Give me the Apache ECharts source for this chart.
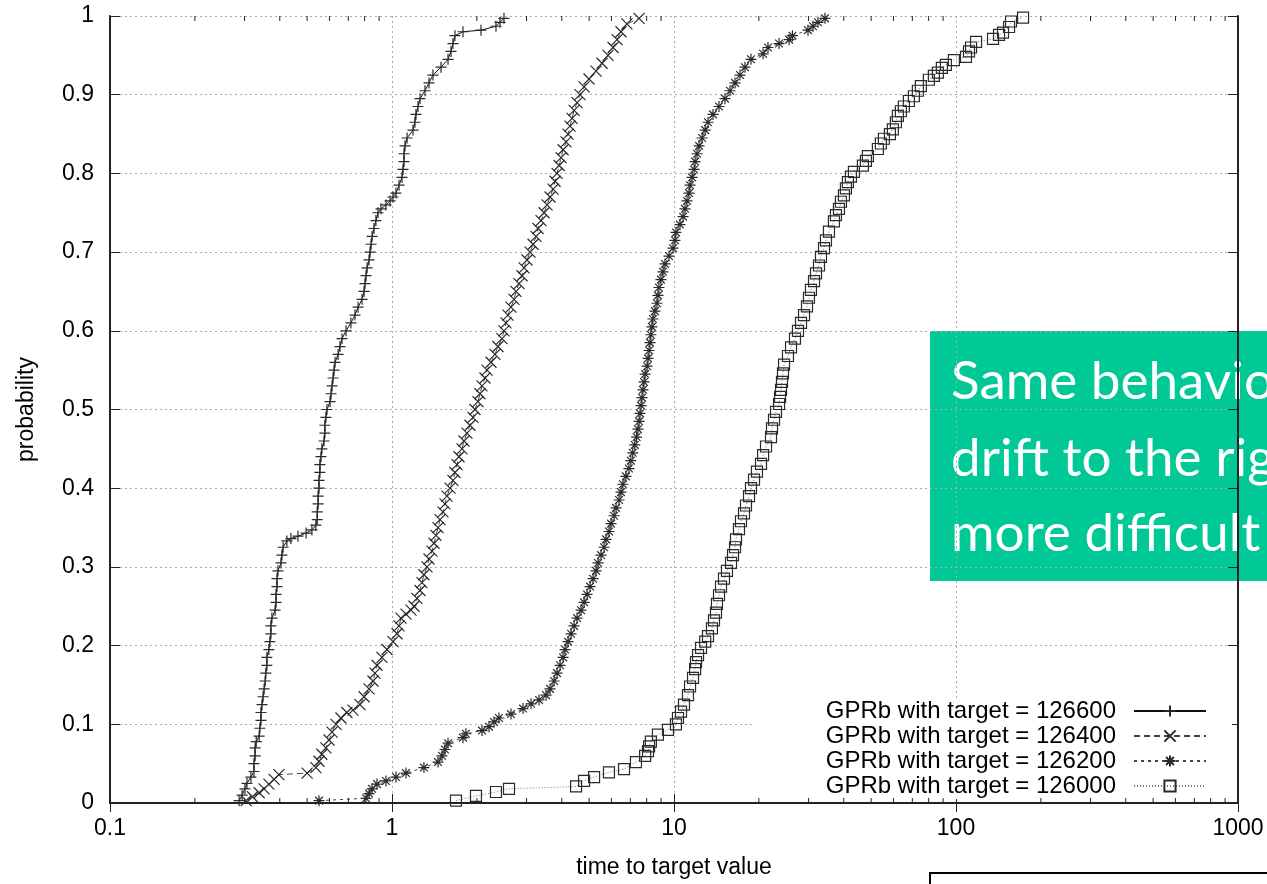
<!DOCTYPE html>
<html>
<head>
<meta charset="utf-8">
<script src="https://cdn.jsdelivr.net/npm/echarts@6/dist/echarts.min.js"></script>
<style>
  html, body { margin: 0; padding: 0; background: #fff; }
  #chart { width: 1267px; height: 884px; }
</style>
</head>
<body>
<div id="chart"></div>
<script>
// Time-to-target plots: each point is [time to target value, cumulative probability]
const seriesNames = [
  'GPRb with target = 126600',
  'GPRb with target = 126400',
  'GPRb with target = 126200',
  'GPRb with target = 126000'
];

const ttt126600 = [
  [0.287,0.003],[0.294,0.010],[0.301,0.018],[0.306,0.025],[0.316,0.033],[0.324,0.040],[0.324,0.050],[0.327,0.060],
  [0.327,0.070],[0.330,0.078],[0.338,0.085],[0.340,0.095],[0.343,0.105],[0.343,0.115],[0.346,0.125],[0.349,0.135],
  [0.352,0.145],[0.355,0.155],[0.357,0.165],[0.360,0.175],[0.360,0.185],[0.366,0.195],[0.369,0.205],[0.372,0.215],
  [0.372,0.225],[0.375,0.235],[0.385,0.245],[0.388,0.255],[0.388,0.265],[0.391,0.275],[0.391,0.285],[0.394,0.295],
  [0.404,0.305],[0.407,0.315],[0.411,0.325],[0.424,0.333],[0.438,0.336],[0.464,0.339],[0.496,0.343],[0.520,0.347],
  [0.537,0.353],[0.543,0.360],[0.543,0.370],[0.547,0.380],[0.547,0.390],[0.551,0.400],[0.551,0.410],[0.555,0.420],
  [0.555,0.430],[0.560,0.440],[0.564,0.450],[0.574,0.460],[0.578,0.470],[0.578,0.480],[0.583,0.490],[0.588,0.500],
  [0.603,0.510],[0.608,0.520],[0.613,0.530],[0.618,0.540],[0.623,0.550],[0.628,0.560],[0.644,0.570],[0.654,0.580],
  [0.665,0.590],[0.687,0.600],[0.715,0.610],[0.739,0.620],[0.758,0.630],[0.783,0.640],[0.796,0.650],[0.802,0.660],
  [0.809,0.670],[0.816,0.680],[0.829,0.690],[0.836,0.700],[0.843,0.710],[0.850,0.720],[0.863,0.730],[0.877,0.740],
  [0.892,0.750],[0.914,0.755],[0.952,0.760],[0.984,0.765],[1.008,0.770],[1.033,0.775],[1.059,0.785],[1.085,0.795],
  [1.094,0.805],[1.103,0.815],[1.103,0.825],[1.112,0.835],[1.131,0.845],[1.187,0.855],[1.206,0.865],[1.216,0.875],
  [1.236,0.885],[1.257,0.895],[1.309,0.905],[1.353,0.915],[1.397,0.925],[1.492,0.935],[1.580,0.945],[1.619,0.955],
  [1.645,0.965],[1.672,0.975],[1.785,0.980],[2.068,0.982],[2.337,0.987],[2.415,0.992],[2.495,0.997]
];

const ttt126400 = [
  [0.304,0.003],[0.320,0.008],[0.338,0.013],[0.352,0.018],[0.366,0.024],[0.382,0.030],[0.397,0.036],[0.500,0.038],
  [0.537,0.045],[0.551,0.053],[0.564,0.062],[0.583,0.070],[0.598,0.080],[0.613,0.090],[0.633,0.100],[0.659,0.108],
  [0.692,0.115],[0.727,0.118],[0.770,0.125],[0.796,0.135],[0.829,0.145],[0.856,0.155],[0.870,0.165],[0.885,0.175],
  [0.921,0.185],[0.960,0.195],[1.008,0.205],[1.042,0.215],[1.059,0.225],[1.076,0.235],[1.121,0.240],[1.168,0.245],
  [1.197,0.250],[1.226,0.260],[1.257,0.270],[1.277,0.280],[1.298,0.290],[1.331,0.300],[1.353,0.310],[1.386,0.320],
  [1.409,0.330],[1.432,0.340],[1.456,0.350],[1.480,0.360],[1.516,0.370],[1.541,0.380],[1.567,0.390],[1.606,0.400],
  [1.645,0.410],[1.672,0.420],[1.700,0.430],[1.728,0.440],[1.771,0.450],[1.800,0.460],[1.844,0.470],[1.890,0.480],
  [1.937,0.490],[1.969,0.500],[2.018,0.510],[2.051,0.520],[2.085,0.530],[2.137,0.540],[2.172,0.550],[2.244,0.560],
  [2.318,0.570],[2.375,0.580],[2.454,0.590],[2.495,0.600],[2.536,0.610],[2.578,0.620],[2.642,0.630],[2.708,0.640],
  [2.752,0.650],[2.821,0.660],[2.891,0.670],[2.939,0.680],[3.012,0.690],[3.087,0.700],[3.164,0.710],[3.242,0.720],
  [3.295,0.730],[3.377,0.740],[3.462,0.750],[3.547,0.760],[3.635,0.770],[3.726,0.780],[3.787,0.790],[3.849,0.800],
  [3.913,0.810],[3.977,0.820],[4.043,0.830],[4.142,0.840],[4.210,0.850],[4.279,0.860],[4.350,0.870],[4.423,0.880],
  [4.531,0.890],[4.641,0.900],[4.799,0.910],[4.997,0.920],[5.292,0.930],[5.557,0.940],[5.835,0.950],[6.080,0.960],
  [6.283,0.970],[6.486,0.980],[6.807,0.990],[7.520,0.997]
];

const ttt126200 = [
  [0.551,0.003],[0.809,0.006],[0.829,0.012],[0.850,0.018],[0.885,0.024],[0.952,0.028],[1.033,0.033],[1.121,0.038],
  [1.298,0.045],[1.456,0.052],[1.504,0.060],[1.541,0.068],[1.580,0.076],[1.785,0.083],[1.829,0.088],[2.085,0.092],
  [2.208,0.097],[2.300,0.103],[2.395,0.108],[2.642,0.113],[2.915,0.120],[3.112,0.126],[3.322,0.131],[3.518,0.137],
  [3.635,0.145],[3.757,0.155],[3.849,0.165],[3.945,0.175],[4.043,0.185],[4.109,0.195],[4.210,0.205],[4.315,0.215],
  [4.423,0.225],[4.531,0.235],[4.682,0.245],[4.799,0.255],[4.917,0.265],[5.039,0.275],[5.164,0.285],[5.292,0.295],
  [5.378,0.305],[5.512,0.315],[5.650,0.325],[5.742,0.335],[5.884,0.345],[5.981,0.355],[6.130,0.365],[6.230,0.375],
  [6.385,0.385],[6.486,0.395],[6.589,0.405],[6.753,0.415],[6.920,0.425],[7.030,0.435],[7.140,0.445],[7.260,0.455],
  [7.370,0.465],[7.450,0.475],[7.520,0.485],[7.580,0.495],[7.640,0.505],[7.700,0.515],[7.760,0.525],[7.830,0.535],
  [7.900,0.545],[8.030,0.555],[8.090,0.565],[8.160,0.575],[8.220,0.585],[8.280,0.595],[8.350,0.605],[8.420,0.615],
  [8.560,0.625],[8.700,0.635],[8.770,0.645],[8.840,0.655],[8.990,0.665],[9.140,0.675],[9.290,0.685],[9.600,0.695],
  [9.920,0.705],[10.08,0.715],[10.16,0.725],[10.50,0.735],[10.77,0.745],[10.94,0.755],[11.12,0.765],[11.30,0.775],
  [11.40,0.785],[11.59,0.795],[11.78,0.805],[11.88,0.815],[12.07,0.825],[12.27,0.835],[12.58,0.845],[12.90,0.855],
  [13.20,0.865],[13.75,0.875],[14.44,0.885],[15.16,0.895],[15.80,0.905],[16.46,0.915],[17.14,0.925],[17.85,0.935],
  [18.75,0.945],[20.70,0.952],[21.54,0.960],[23.58,0.965],[25.60,0.970],[26.30,0.975],[29.86,0.982],[31.10,0.987],
  [32.40,0.992],[34.30,0.997]
];

const ttt126000 = [
  [1.686,0.003],[1.985,0.009],[2.337,0.014],[2.600,0.018],[4.495,0.021],[4.799,0.028],[5.207,0.033],[5.880,0.039],
  [6.650,0.043],[7.330,0.052],[7.900,0.060],[8.090,0.066],[8.160,0.072],[8.280,0.078],[8.770,0.087],[9.520,0.093],
  [10.16,0.100],[10.33,0.108],[10.59,0.116],[10.85,0.125],[11.21,0.137],[11.40,0.148],[11.68,0.159],[11.88,0.170],
  [11.97,0.179],[12.17,0.188],[12.47,0.197],[12.90,0.205],[13.20,0.212],[13.63,0.222],[13.86,0.232],[14.09,0.242],
  [14.20,0.253],[14.44,0.264],[14.68,0.275],[15.04,0.285],[15.41,0.295],[15.93,0.305],[16.19,0.315],[16.46,0.325],
  [16.59,0.335],[17.00,0.348],[17.28,0.358],[17.71,0.368],[18.00,0.378],[18.45,0.390],[18.75,0.400],[19.22,0.411],
  [19.69,0.421],[20.35,0.431],[20.70,0.442],[21.20,0.453],[22.08,0.465],[22.26,0.476],[22.63,0.487],[23.00,0.497],
  [23.58,0.507],[23.77,0.516],[23.96,0.525],[24.15,0.535],[24.35,0.546],[24.56,0.557],[25.36,0.568],[26.00,0.579],
  [26.85,0.590],[27.52,0.600],[28.21,0.610],[28.91,0.620],[29.62,0.631],[30.10,0.642],[30.60,0.652],[31.37,0.663],
  [31.88,0.673],[32.67,0.683],[33.20,0.694],[34.03,0.705],[34.58,0.715],[35.44,0.726],[36.91,0.739],[37.52,0.747],
  [38.45,0.755],[39.08,0.764],[40.05,0.772],[40.70,0.781],[41.37,0.789],[42.40,0.796],[43.45,0.802],[46.76,0.810],
  [47.92,0.816],[48.70,0.822],[52.84,0.831],[54.15,0.838],[55.50,0.844],[58.30,0.850],[59.72,0.856],[61.21,0.865],
  [62.21,0.873],[63.76,0.879],[65.34,0.885],[68.06,0.892],[70.90,0.898],[73.24,0.905],[75.06,0.911],[80.13,0.919],
  [83.47,0.924],[86.23,0.928],[89.10,0.934],[92.06,0.938],[98.28,0.944],[108.5,0.948],[111.2,0.955],[113.1,0.960],
  [117.8,0.967],[135.3,0.971],[142.1,0.976],[146.8,0.979],[154.2,0.986],[156.7,0.993],[172.9,0.998]
];

// Axis ranges and the unlabelled log ticks between decades
const X_MIN = 0.1, X_MAX = 1000;
const Y_MIN = 0, Y_MAX = 1, Y_STEP = 0.1;
const minorTickValues = [
  0.2, 0.3, 0.4, 0.5, 0.6, 0.7, 0.8, 0.9,
  2, 3, 4, 5, 6, 7, 8, 9,
  20, 30, 40, 50, 60, 70, 80, 90,
  200, 300, 400, 500, 600, 700, 800, 900
];

const noteLines = ['Same behavior', 'drift to the right', 'more difficult'];

const FONT = 'Liberation Sans, Arial, Helvetica, sans-serif';
const NOTE_FONT = '53px Lato, "Open Sans", sans-serif';
const AXIS_COLOR = '#222';
const MARK_COLOR = '#2a2a2a';

// Marker glyphs: plus, cross, star, open square
const plusSymbol = 'path://M0,5L10,5M5,0L5,10';
const crossSymbol = 'path://M0,0L10,10M10,0L0,10';
const starSymbol = 'path://M0,5L10,5M5,0L5,10M1.5,1.5L8.5,8.5M8.5,1.5L1.5,8.5';
const squareSymbol = 'path://M0,0L10,0L10,10L0,10Z';

function tttSeries(name, data, symbol, lineType, lineColor) {
  return {
    name: name,
    type: 'line',
    data: data,
    symbol: symbol,
    symbolSize: 11,
    showSymbol: true,
    showAllSymbol: true,
    smooth: false,
    clip: false,
    lineStyle: { color: lineColor, width: 1, type: lineType },
    itemStyle: { color: 'none', borderColor: MARK_COLOR, borderWidth: 1.2 },
    emphasis: { disabled: true },
    z: 3
  };
}

function renderMinorTick(params, api) {
  const v = api.value(0);
  const bottom = api.coord([v, Y_MIN]);
  const top = api.coord([v, Y_MAX]);
  const style = { stroke: AXIS_COLOR, lineWidth: 1 };
  return {
    type: 'group',
    children: [
      { type: 'line', shape: { x1: bottom[0], y1: bottom[1], x2: bottom[0], y2: bottom[1] - 5 }, style: style },
      { type: 'line', shape: { x1: top[0], y1: top[1], x2: top[0], y2: top[1] + 5 }, style: style }
    ]
  };
}

function plainNumber(v) {
  return String(parseFloat(Number(v).toPrecision(6)));
}

const baseAxisLine = { show: true, lineStyle: { color: AXIS_COLOR, width: 2 } };
const gridLine = { show: true, lineStyle: { color: '#aaa', width: 1, type: [2, 3] } };

const chart = echarts.init(document.getElementById('chart'), null, { renderer: 'canvas' });

chart.setOption({
  animation: false,
  backgroundColor: '#fff',
  textStyle: { fontFamily: FONT },
  grid: { left: 110, right: 29, top: 16, bottom: 75 },
  xAxis: [
    {
      type: 'log', logBase: 10, min: X_MIN, max: X_MAX,
      position: 'bottom',
      name: 'time to target value',
      nameLocation: 'middle',
      nameGap: 53,
      nameTextStyle: { fontFamily: FONT, fontSize: 23, color: '#000' },
      axisLine: baseAxisLine,
      axisTick: { show: true, inside: true, length: 9, lineStyle: { color: AXIS_COLOR, width: 1 } },
      axisLabel: { fontFamily: FONT, fontSize: 23, color: '#000', margin: 14, formatter: plainNumber },
      splitLine: gridLine,
      minorTick: { show: false }
    },
    {
      type: 'log', logBase: 10, min: X_MIN, max: X_MAX,
      position: 'top',
      axisLine: baseAxisLine,
      axisTick: { show: true, inside: true, length: 9, lineStyle: { color: AXIS_COLOR, width: 1 } },
      axisLabel: { show: false },
      splitLine: { show: false }
    }
  ],
  yAxis: [
    {
      type: 'value', min: Y_MIN, max: Y_MAX, interval: Y_STEP,
      position: 'left',
      name: 'probability',
      nameLocation: 'middle',
      nameGap: 72,
      nameRotate: 90,
      nameTextStyle: { fontFamily: FONT, fontSize: 23, color: '#000' },
      axisLine: baseAxisLine,
      axisTick: { show: true, inside: true, length: 10, lineStyle: { color: AXIS_COLOR, width: 1 } },
      axisLabel: { fontFamily: FONT, fontSize: 23, color: '#000', margin: 16 },
      splitLine: gridLine
    },
    {
      type: 'value', min: Y_MIN, max: Y_MAX, interval: Y_STEP,
      position: 'right',
      axisLine: baseAxisLine,
      axisTick: { show: true, inside: true, length: 10, lineStyle: { color: AXIS_COLOR, width: 1 } },
      axisLabel: { show: false },
      splitLine: { show: false }
    }
  ],
  legend: {
    data: seriesNames,
    orient: 'vertical',
    align: 'right',
    right: 35,
    top: 698,
    padding: [1, 25, 1, 72],
    itemWidth: 72,
    itemHeight: 14,
    itemGap: 1,
    selectedMode: false,
    backgroundColor: '#fff',
    textStyle: { fontFamily: FONT, fontSize: 24, color: '#000', padding: [0, 13, 0, 0] },
    z: 2
  },
  series: [
    tttSeries(seriesNames[0], ttt126600, plusSymbol, 'solid', '#111'),
    tttSeries(seriesNames[1], ttt126400, crossSymbol, [6, 4], '#444'),
    tttSeries(seriesNames[2], ttt126200, starSymbol, [3, 4], '#444'),
    tttSeries(seriesNames[3], ttt126000, squareSymbol, [1, 2], '#777'),
    {
      type: 'custom',
      xAxisIndex: 0,
      yAxisIndex: 0,
      data: minorTickValues.map(function (v) { return [v, Y_MIN]; }),
      renderItem: renderMinorTick,
      silent: true,
      clip: false,
      z: 5
    }
  ],
  graphic: [
    {
      type: 'group',
      z: 100,
      children: [
        {
          type: 'rect',
          shape: { x: 930, y: 331, width: 360, height: 250 },
          style: { fill: '#00c896' }
        },
        {
          type: 'text', x: 951, y: 382,
          style: { text: noteLines[0], fill: '#fff', font: NOTE_FONT, verticalAlign: 'middle' }
        },
        {
          type: 'text', x: 951, y: 459,
          style: { text: noteLines[1], fill: '#fff', font: NOTE_FONT, verticalAlign: 'middle' }
        },
        {
          type: 'text', x: 951, y: 534,
          style: { text: noteLines[2], fill: '#fff', font: NOTE_FONT, verticalAlign: 'middle' }
        },
        {
          type: 'rect',
          shape: { x: 930, y: 873, width: 360, height: 40 },
          style: { fill: '#fff', stroke: '#000', lineWidth: 2 }
        }
      ]
    }
  ]
});
</script>
</body>
</html>
